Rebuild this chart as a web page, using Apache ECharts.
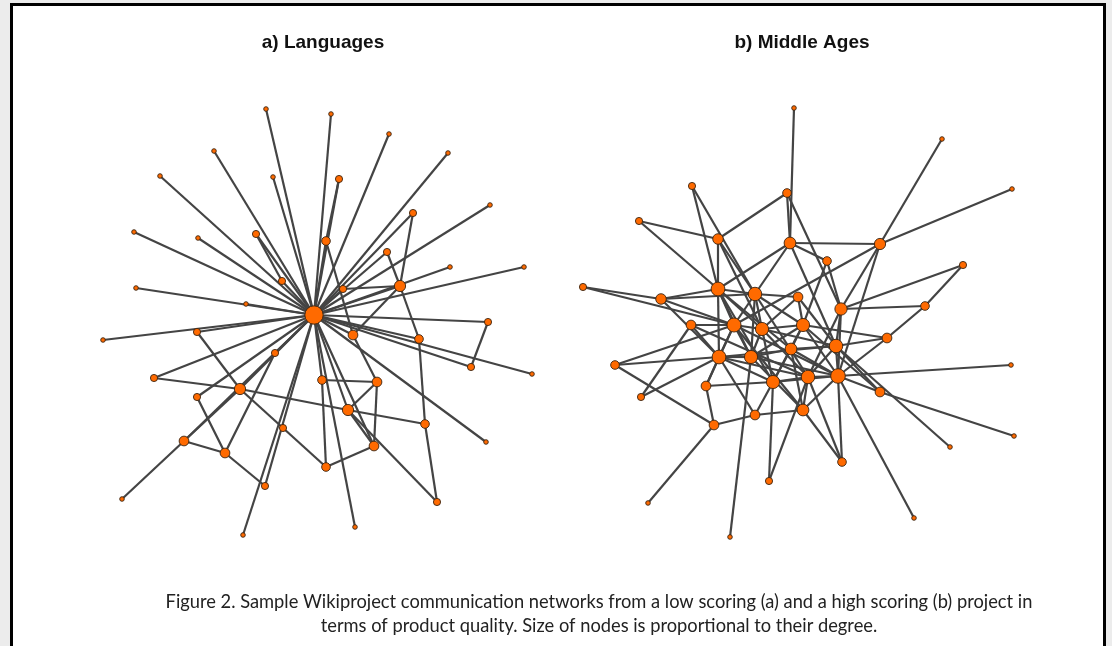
<!DOCTYPE html>
<html>
<head>
<meta charset="utf-8">
<script src="https://cdn.jsdelivr.net/npm/echarts@6/dist/echarts.min.js"></script>
<style>
html, body { margin: 0; padding: 0; background: #ececec; }
#chart { width: 1112px; height: 646px; }
</style>
</head>
<body>
<div id="chart"></div>
<script>
// node positions in picture units
var langNodes = [
    [314, 315], [266, 109], [214, 151], [273, 177], [160, 176], [134, 232], [198, 238],
    [256, 234], [282, 281], [136, 288], [246, 304], [331, 114], [389, 134], [448, 153],
    [339, 179], [490, 205], [413, 213], [326, 241], [387, 252], [450, 267], [524, 267],
    [400, 286], [343, 289], [103, 340], [197, 332], [275, 353], [154, 378], [240, 389],
    [197, 397], [283, 428], [184, 441], [225, 453], [265, 486], [122, 499], [243, 535],
    [488, 322], [353, 335], [419, 339], [471, 367], [532, 374], [322, 380], [377, 382],
    [348, 410], [425, 424], [486, 442], [374, 446], [326, 467], [437, 502], [355, 527]
];
var langLinks = [
    [0, 1], [0, 2], [0, 3], [0, 4], [0, 5], [0, 6], [0, 7], [0, 8], [0, 9], [0, 10],
    [0, 11], [0, 12], [0, 13], [0, 14], [0, 15], [0, 16], [0, 17], [0, 18], [0, 19], [0, 20],
    [0, 21], [0, 22], [0, 23], [0, 24], [0, 25], [0, 26], [0, 27], [0, 28], [0, 30], [0, 32],
    [0, 34], [0, 35], [0, 36], [0, 37], [0, 38], [0, 39], [0, 40], [0, 42], [0, 44], [0, 45],
    [0, 48],
    [7, 8], [14, 17], [17, 36], [16, 21], [18, 21], [21, 22], [21, 36], [21, 37], [35, 38],
    [24, 27], [27, 29], [29, 46], [26, 27], [27, 42], [27, 30], [28, 31], [30, 31], [30, 33],
    [31, 32], [31, 25], [37, 43], [43, 47], [47, 42], [36, 41], [40, 41], [40, 46], [41, 42],
    [41, 45], [42, 43], [42, 45], [45, 46]
];

var midNodes = [
    [794, 108], [942, 139], [692, 186], [787, 193], [1012, 189], [639, 221], [718, 239],
    [790, 243], [880, 244], [827, 261], [963, 265], [583, 287], [661, 299], [718, 289],
    [755, 294], [798, 297], [925, 306], [841, 309], [691, 325], [734, 325], [762, 329],
    [803, 325], [887, 338], [836, 346], [791, 349], [719, 357], [751, 357], [615, 365],
    [1011, 365], [838, 376], [808, 377], [773, 382], [706, 386], [880, 392], [641, 397],
    [803, 410], [755, 415], [714, 425], [1014, 436], [950, 447], [842, 462], [769, 481],
    [648, 503], [914, 518], [730, 537]
];
var midLinks = [
    [0, 7], [1, 8], [4, 8], [3, 6], [3, 7], [3, 17], [2, 13], [2, 14], [5, 6], [5, 13],
    [6, 13], [6, 20], [6, 14], [7, 8], [7, 13], [7, 14], [7, 9], [7, 23], [8, 19], [8, 17],
    [8, 29], [9, 17], [9, 21], [10, 17], [10, 16], [16, 17], [16, 22], [11, 12], [11, 19],
    [12, 13], [12, 19], [12, 25], [12, 14], [27, 25], [27, 37], [27, 19], [34, 25], [34, 18],
    [37, 36], [37, 32], [37, 42], [44, 26], [41, 31], [41, 30], [32, 19], [32, 31], [28, 29],
    [38, 33], [39, 23], [43, 29], [40, 29], [40, 35], [40, 30], [22, 29], [22, 21], [22, 23],
    [33, 29], [33, 21], [33, 23],
    [13, 14], [13, 20], [13, 25], [13, 19], [13, 26], [13, 31], [13, 24],
    [14, 20], [14, 21], [14, 19], [14, 26], [14, 30], [14, 15],
    [15, 21], [15, 20], [15, 23], [18, 19], [18, 25], [18, 30],
    [19, 20], [19, 25], [19, 26], [19, 29], [19, 35],
    [20, 21], [20, 26], [20, 30], [20, 31], [20, 23],
    [21, 24], [21, 26], [21, 29], [21, 31],
    [23, 30], [23, 24], [23, 29], [23, 17], [23, 25],
    [24, 31], [24, 35], [24, 26], [24, 29],
    [25, 26], [25, 31], [25, 30], [25, 36], [25, 32],
    [26, 29], [26, 35], [29, 30], [29, 31], [29, 35], [29, 17],
    [30, 35], [30, 31], [30, 17], [31, 36], [35, 36]
];

var titles = ['a) Languages', 'b) Middle Ages'];
var caption = 'Figure 2. Sample Wikiproject communication networks from a low scoring (a) and a high scoring (b) project in\nterms of product quality. Size of nodes is proportional to their degree.';

// node size grows with degree
function buildGraph(nodes, links) {
    var deg = nodes.map(function () { return 0; });
    links.forEach(function (l) { deg[l[0]]++; deg[l[1]]++; });
    return {
        data: nodes.map(function (p, i) {
            return { value: p, symbolSize: 4.6 + 3.7 * Math.log(Math.max(deg[i], 1)) };
        }),
        links: links.map(function (l) { return { source: l[0], target: l[1] }; })
    };
}

var lang = buildGraph(langNodes, langLinks);
var mid = buildGraph(midNodes, midLinks);

function graphSeries(g) {
    return {
        type: 'graph',
        coordinateSystem: 'cartesian2d',
        layout: 'none',
        silent: true,
        z: 2,
        symbol: 'circle',
        data: g.data,
        links: g.links,
        itemStyle: { color: '#ff6a00', borderColor: '#3b2410', borderWidth: 0.9 },
        lineStyle: { color: '#444444', width: 2.2, opacity: 1, curveness: 0 },
        label: { show: false }
    };
}

var myChart = echarts.init(document.getElementById('chart'));
var option = {
    animation: false,
    backgroundColor: '#ececec',
    title: [
        {
            text: titles[0], left: 318, top: 28, textAlign: 'center',
            textStyle: { fontFamily: 'Liberation Sans', fontWeight: 'bold', fontSize: 19, color: '#111' }
        },
        {
            text: titles[1], left: 797, top: 28, textAlign: 'center',
            textStyle: { fontFamily: 'Liberation Sans', fontWeight: 'bold', fontSize: 19, color: '#111' }
        },
        {
            text: caption, left: 594, top: 585, textAlign: 'center',
            textStyle: { fontFamily: 'Lato', fontWeight: 'normal', fontSize: 18.3, lineHeight: 24, color: '#222' }
        }
    ],
    graphic: [
        {
            type: 'rect', z: 0,
            shape: { x: 11.5, y: 4.5, width: 1093, height: 700 },
            style: { fill: '#ffffff', stroke: '#000000', lineWidth: 3 }
        }
    ],
    grid: { left: 0, top: 0, width: 1112, height: 646, show: false },
    xAxis: { type: 'value', min: 0, max: 1112, show: false },
    yAxis: { type: 'value', min: 0, max: 646, inverse: true, show: false },
    series: [graphSeries(lang), graphSeries(mid)]
};
myChart.setOption(option);
</script>
</body>
</html>
